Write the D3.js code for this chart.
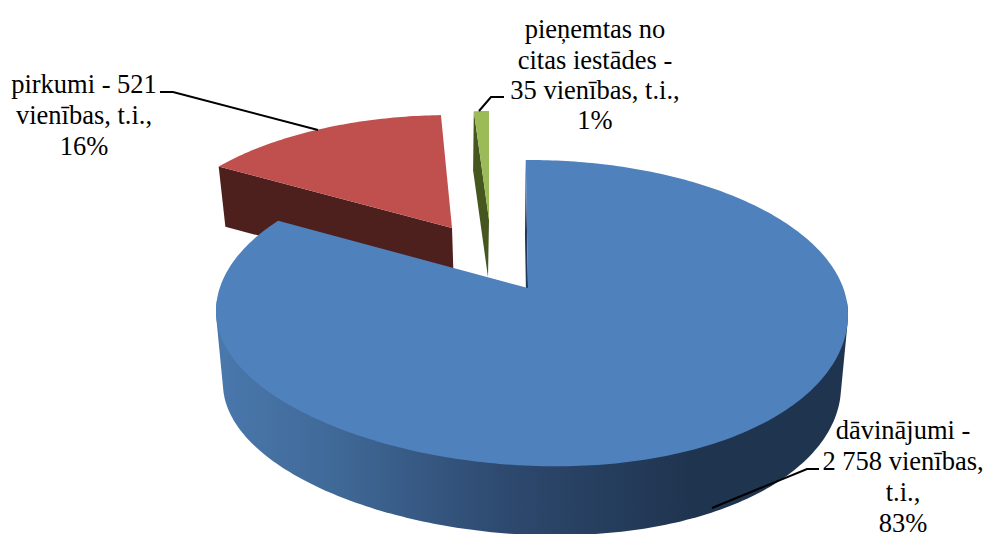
<!DOCTYPE html>
<html>
  <head>
    <meta charset="utf-8" />
    <script src="https://d3js.org/d3.v7.min.js"></script>
    <style>
      html, body { margin: 0; padding: 0; background: #fff; }
      svg { display: block; }
      text { font-family: "Liberation Serif", serif; font-size: 26.5px; fill: #000; }
    </style>
  </head>
  <body>
    <svg id="chart" width="987" height="534"></svg>
    <script>
      const categories = ["dāvinājumi", "pirkumi", "pieņemtas no citas iestādes"];
      const values = [2758, 521, 35];
      const topColors = ["#4f81bd", "#c0504d", "#9bbb59"];
      const wallColors = ["#1f3a5f", "#4d1f1d", "#46561f"];

      const labelLines = [
        ["dāvinājumi -", "2 758 vienības,", "t.i.,", "83%"],
        ["pirkumi - 521", "vienības, t.i.,", "16%"],
        ["pieņemtas no", "citas iestādes -", "35 vienības, t.i.,", "1%"]
      ];
      const labelX = [903, 84, 595];
      const labelY = [431, 85, 30];
      const lineStep = [30.7, 30.7, 30.3];

      const leaders = [
        [[712, 508], [807, 469], [819, 469]],
        [[160, 92], [173, 92], [318, 130]],
        [[479, 111], [491, 97], [504, 97]]
      ];

      // each exploded slice has its own top and bottom ellipse (perspective)
      // sk = shear around the apex, lean = lower right side hangs a bit
      const topDiscs = [
        { cx: 531.5, cy: 313, rx: 316, ry: 153, ax: -0.011, ay: -0.163, sk: 3, lean: 5 },
        { cx: 445, cy: 250, rx: 292, ry: 135, ax: 0.024, ay: -0.163, sk: -7, lean: 0 },
        { cx: 489, cy: 241, rx: 270, ry: 130, ax: 0, ay: -0.163, sk: 0, lean: 0 }
      ];
      const bottomDiscs = [
        { cx: 531.5, cy: 385, rx: 309, ry: 150, ax: -0.014, ay: -0.163, sk: 3, lean: 5 },
        { cx: 447, cy: 309, rx: 286, ry: 133, ax: 0.024, ay: -0.163, sk: -7, lean: 0 },
        { cx: 488, cy: 298, rx: 265, ry: 128, ax: 0, ay: -0.163, sk: 0, lean: 0 }
      ];

      const svg = d3.select("#chart");

      const slices = d3.pie().sort(null).value((d) => d)(values);

      // unit disc -> ellipse through a projective map, so the pie centre lands off the ellipse centre
      function project(disc, angle, r) {
        const u = r * Math.sin(angle);
        const v = -r * Math.cos(angle);
        const m = Math.hypot(disc.ax, disc.ay);
        const ex = disc.ax / m;
        const ey = disc.ay / m;
        const p = u * ex + v * ey;
        const q = -u * ey + v * ex;
        const p2 = (p + m) / (1 + m * p);
        const q2 = (q * Math.sqrt(1 - m * m)) / (1 + m * p);
        const u2 = p2 * ex - q2 * ey;
        const v2 = p2 * ey + q2 * ex;
        return [
          disc.cx + disc.rx * u2 + disc.sk * (v2 - disc.ay),
          disc.cy + disc.ry * v2 + disc.lean * 2 * u2 * Math.max(0, v2)
        ];
      }

      function arcPoints(disc, a0, a1) {
        const n = Math.ceil(Math.abs(a1 - a0) * 60) + 2;
        return d3.range(n + 1).map((i) => project(disc, a0 + ((a1 - a0) * i) / n, 1));
      }

      const line = d3.line();
      const deg = Math.PI / 180;

      // gradient on the blue outer wall
      const grad = svg.append("defs").append("linearGradient")
        .attr("id", "blueWall")
        .attr("gradientUnits", "userSpaceOnUse")
        .attr("x1", 215).attr("x2", 848).attr("y1", 0).attr("y2", 0);
      grad.selectAll("stop")
        .data([[0, "#4a78ad"], [0.2, "#3f6896"], [0.45, "#2e4a70"], [0.75, "#1f344f"], [1, "#1f344f"]])
        .join("stop")
        .attr("offset", (d) => d[0])
        .attr("stop-color", (d) => d[1]);

      // back to front: green, red, blue
      [2, 1, 0].forEach((i) => {
        const s = slices[i];
        const top = topDiscs[i];
        const bot = bottomDiscs[i];
        const g = svg.append("g").attr("class", "slice");

        if (i === 0) {
          // outer wall, hull keeps the sides straight between the two ellipses
          const hull = d3.polygonHull(
            arcPoints(top, 95 * deg, 265 * deg).concat(arcPoints(bot, 95 * deg, 265 * deg))
          );
          g.append("path")
            .attr("d", line(hull) + "Z")
            .attr("fill", "url(#blueWall)");
        }

        // radial wall at the start edge of each slice
        g.append("path")
          .attr("d", line([
            project(top, s.startAngle, 1),
            project(top, s.startAngle, 0),
            project(bot, s.startAngle, 0),
            project(bot, s.startAngle, 1)
          ]) + "Z")
          .attr("fill", wallColors[i]);

        // top face
        g.append("path")
          .attr("d", line([project(top, s.startAngle, 0)]
            .concat(arcPoints(top, s.startAngle, s.endAngle))) + "Z")
          .attr("fill", topColors[i]);
      });

      svg.selectAll("path.leader")
        .data(leaders)
        .join("path")
        .attr("class", "leader")
        .attr("d", line)
        .attr("fill", "none")
        .attr("stroke", "#000")
        .attr("stroke-width", 2);

      labelLines.forEach((lines, i) => {
        svg.append("text")
          .attr("text-anchor", "middle")
          .selectAll("tspan")
          .data(lines)
          .join("tspan")
          .attr("x", labelX[i])
          .attr("y", (d, j) => labelY[i] + j * lineStep[i])
          .attr("dy", "0.32em")
          .text((d) => d);
      });
    </script>
  </body>
</html>
